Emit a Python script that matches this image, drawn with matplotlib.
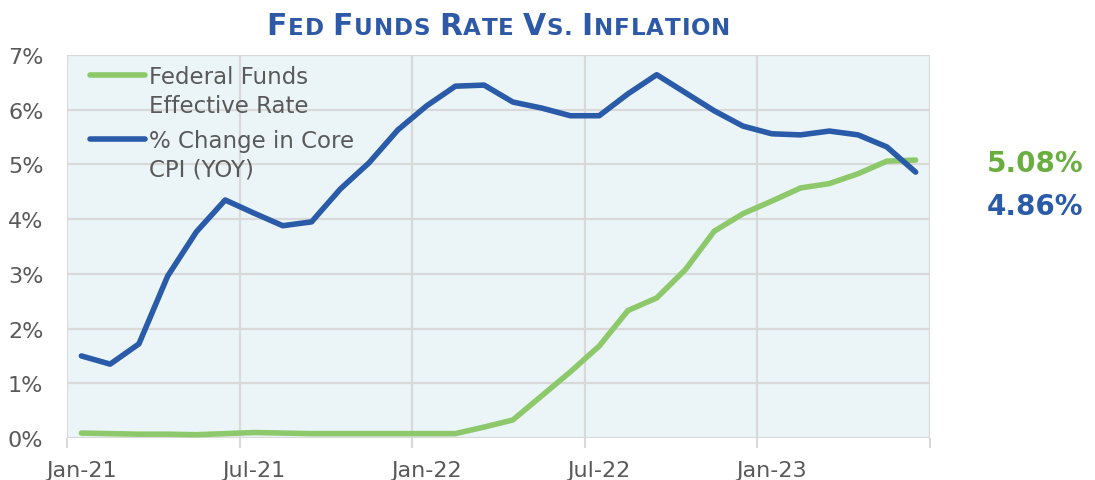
import matplotlib
matplotlib.use("Agg")
import matplotlib.pyplot as plt
from matplotlib.ticker import FixedLocator, FuncFormatter

# ---- data ----
months = ["Jan-21", "Feb-21", "Mar-21", "Apr-21", "May-21", "Jun-21", "Jul-21", "Aug-21",
          "Sep-21", "Oct-21", "Nov-21", "Dec-21", "Jan-22", "Feb-22", "Mar-22", "Apr-22",
          "May-22", "Jun-22", "Jul-22", "Aug-22", "Sep-22", "Oct-22", "Nov-22", "Dec-22",
          "Jan-23", "Feb-23", "Mar-23", "Apr-23", "May-23", "Jun-23"]
fed_funds = [0.09, 0.08, 0.07, 0.07, 0.06, 0.08, 0.10, 0.09, 0.08, 0.08, 0.08, 0.08,
             0.08, 0.08, 0.20, 0.33, 0.77, 1.21, 1.68, 2.33, 2.56, 3.08, 3.78, 4.10,
             4.33, 4.57, 4.65, 4.83, 5.06, 5.08]
core_cpi = [1.50, 1.35, 1.72, 2.96, 3.77, 4.35, 4.11, 3.88, 3.95, 4.55, 5.03, 5.63,
            6.07, 6.43, 6.45, 6.14, 6.03, 5.89, 5.89, 6.29, 6.64, 6.31, 5.98, 5.70,
            5.56, 5.54, 5.61, 5.54, 5.32, 4.86]
label_months = ["Jan-21", "Jul-21", "Jan-22", "Jul-22", "Jan-23"]
y_ticks = [0, 1, 2, 3, 4, 5, 6, 7]
series_labels = [["Federal Funds", "Effective Rate"], ["% Change in Core", "CPI (YOY)"]]
title_text = "Fed Funds Rate Vs. Inflation"

GREEN = "#8DC96A"
GREEN_TXT = "#6AAE40"
BLUE = "#2A5BA8"
TITLE_BLUE = "#2D59A6"
GRAY = "#595959"
GRID = "#D9D9D9"
BG = "#EBF5F8"

W, H = 1095, 481
fig = plt.figure(figsize=(W / 100, H / 100), dpi=100)
plt.rcParams['font.family'] = ['DejaVu Sans']

L, R, T, B = 67, 930, 56, 439
ax = fig.add_axes([L / W, (H - B) / H, (R - L) / W, (B - T) / H])
ax.set_facecolor(BG)

x = list(range(len(months)))
ax.plot(x, fed_funds, color=GREEN, lw=4, solid_joinstyle='round', solid_capstyle='round', zorder=3)
ax.plot(x, core_cpi, color=BLUE, lw=4, solid_joinstyle='round', solid_capstyle='round', zorder=4)

ax.set_xlim(-0.5, len(months) - 0.5)
ax.set_ylim(0, 7)

# y axis
ax.set_yticks(y_ticks)
ax.yaxis.set_major_formatter(FuncFormatter(lambda v, p: f"{v:.0f}%"))
ax.tick_params(axis='y', length=0, pad=17, labelsize=16, labelcolor=GRAY)

# x axis: boundaries every 6 months (ticks + grid), labels at month centres
bounds = [i - 0.5 for i in range(0, len(months) + 1, 6)]
ax.xaxis.set_major_locator(FixedLocator(bounds))
ax.xaxis.set_major_formatter(FuncFormatter(lambda v, p: ""))
lab_pos = [months.index(m) for m in label_months]
ax.xaxis.set_minor_locator(FixedLocator(lab_pos))
ax.xaxis.set_minor_formatter(FuncFormatter(
    lambda v, p: months[int(round(v))] if months[int(round(v))] in label_months else ""))
ax.tick_params(axis='x', which='major', length=7, width=1.5, color=GRID)
ax.tick_params(axis='x', which='minor', length=0, pad=16, labelsize=16, labelcolor=GRAY)

ax.grid(True, which='major', color=GRID, lw=1.6, zorder=0)
ax.set_axisbelow(True)
for s in ax.spines.values():
    s.set_visible(False)


def px(xp, yp):
    return xp / W, 1 - yp / H


# manual legend (handles aligned with first text line)
for (hy, base1), col, labs in zip([(76, 84), (140, 148)], [GREEN, BLUE], series_labels):
    x0, y0 = px(90, hy)
    x1, _ = px(145, hy)
    fig.add_artist(plt.Line2D([x0, x1], [y0, y0], color=col, lw=4, solid_capstyle='round',
                              transform=fig.transFigure))
    for k, t in enumerate(labs):
        tx, ty = px(149, base1 + 29 * k)
        fig.text(tx, ty, t, fontsize=16.5, color=GRAY, va='baseline', ha='left')

# end value labels
fig.text(*px(987, 172), f"{fed_funds[-1]:.2f}%", fontsize=20, fontweight='bold',
         color=GREEN_TXT, va='baseline', ha='left')
fig.text(*px(987, 215), f"{core_cpi[-1]:.2f}%", fontsize=20, fontweight='bold',
         color=BLUE, va='baseline', ha='left')

# small-caps title, drawn character by character with slight tracking
fig.canvas.draw()
renderer = fig.canvas.get_renderer()
chars = []
prev = " "
for ch in title_text:
    big = ch.isupper() or ch in ".%"
    if ch == ".":
        big = False
    chars.append((ch.upper(), ch.isupper()))
arts, widths = [], []
space_w = 7.0
for ch, big in chars:
    if ch == " ":
        arts.append(None)
        widths.append(space_w)
        continue
    t = fig.text(0, 0, ch, fontsize=21.5 if big else 16.6, fontweight='bold',
                 color=TITLE_BLUE, va='baseline', ha='left')
    arts.append(t)
    widths.append(t.get_window_extent(renderer).width)
track = 0.9
total = sum(widths) + track * (len(widths) - 1)
cx = (L + R) / 2
xs = cx - total / 2
for t, w in zip(arts, widths):
    if t is not None:
        t.set_position(px(xs, 35))
    xs += w + track

fig.savefig("out.png", dpi=100)
